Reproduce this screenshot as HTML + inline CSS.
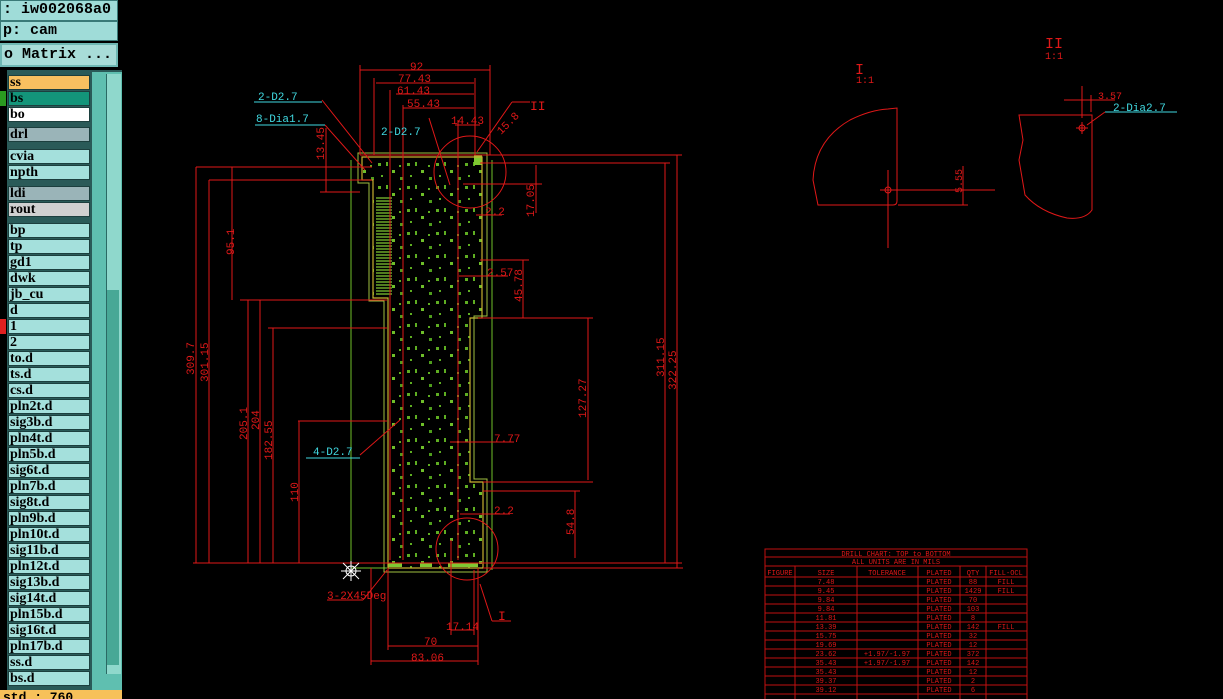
<!DOCTYPE html>
<html><head><meta charset="utf-8"><style>
html,body{margin:0;padding:0;background:#000;width:1223px;height:699px;overflow:hidden;font-family:"Liberation Mono",monospace}
.p{position:absolute}
.hd{position:absolute;left:0;width:118px;background:#9fdcd8;border:1px solid #3a7a78;color:#000;font:bold 15px "Liberation Mono",monospace;line-height:18px;box-sizing:border-box;padding-left:2px;white-space:nowrap;overflow:hidden}
.r{position:absolute;left:8px;width:82px;height:15px;background:#a4e0dc;border:1px solid #1c3f3e;box-sizing:border-box;font:bold 14px "Liberation Serif",serif;line-height:13px;padding-left:1px;color:#000}
svg text{font-family:"Liberation Mono",monospace}
</style></head><body>
<div class="p" style="left:0;top:0;width:122px;height:699px;background:#000"></div>
<div class="hd" style="top:0;height:21px">: iw002068a0</div>
<div class="hd" style="top:21px;height:20px">p: cam</div>
<div class="hd" style="top:43px;height:24px;background:#a8dcd8;border:2px solid #6fb8b4;line-height:20px">o Matrix ...</div>
<div class="p" style="left:0;top:70px;width:122px;height:620px;background:#2a5a58"></div>
<div class="p" style="left:0;top:70px;width:7px;height:620px;background:#000"></div>
<div class="p" style="left:92px;top:72px;width:30px;height:618px;background:#5fbfb0"></div>
<div class="p" style="left:106px;top:74px;width:14px;height:600px;background:#8fd8cc;border-left:1px solid #2a6a64"></div>
<div class="p" style="left:107px;top:290px;width:12px;height:375px;background:#48a896"></div>
<div class="p" style="left:0;top:690px;width:122px;height:9px;background:#f7c15a;overflow:hidden;font:bold 13px 'Liberation Mono',monospace;line-height:16px;padding-left:3px;box-sizing:border-box">std : 760</div>
<div class="r" style="top:75px;background:#f8c060">ss</div>
<div class="r" style="top:91px;background:#13957a">bs</div>
<div class="r" style="top:107px;background:#fff">bo</div>
<div class="r" style="top:127px;background:#9ab4b8">drl</div>
<div class="r" style="top:149px">cvia</div>
<div class="r" style="top:165px">npth</div>
<div class="r" style="top:186px;background:#9ab4b8">ldi</div>
<div class="r" style="top:202px;background:#d0d0d0">rout</div>
<div class="r" style="top:223px">bp</div>
<div class="r" style="top:239px">tp</div>
<div class="r" style="top:255px">gd1</div>
<div class="r" style="top:271px">dwk</div>
<div class="r" style="top:287px">jb_cu</div>
<div class="r" style="top:303px">d</div>
<div class="r" style="top:319px">1</div>
<div class="r" style="top:335px">2</div>
<div class="r" style="top:351px">to.d</div>
<div class="r" style="top:367px">ts.d</div>
<div class="r" style="top:383px">cs.d</div>
<div class="r" style="top:399px">pln2t.d</div>
<div class="r" style="top:415px">sig3b.d</div>
<div class="r" style="top:431px">pln4t.d</div>
<div class="r" style="top:447px">pln5b.d</div>
<div class="r" style="top:463px">sig6t.d</div>
<div class="r" style="top:479px">pln7b.d</div>
<div class="r" style="top:495px">sig8t.d</div>
<div class="r" style="top:511px">pln9b.d</div>
<div class="r" style="top:527px">pln10t.d</div>
<div class="r" style="top:543px">sig11b.d</div>
<div class="r" style="top:559px">pln12t.d</div>
<div class="r" style="top:575px">sig13b.d</div>
<div class="r" style="top:591px">sig14t.d</div>
<div class="r" style="top:607px">pln15b.d</div>
<div class="r" style="top:623px">sig16t.d</div>
<div class="r" style="top:639px">pln17b.d</div>
<div class="r" style="top:655px">ss.d</div>
<div class="r" style="top:671px">bs.d</div>
<div class="p" style="left:0;top:91px;width:6px;height:15px;background:#2a9a20"></div>
<div class="p" style="left:0;top:319px;width:6px;height:15px;background:#e02020"></div>

<svg class="p" style="left:0;top:0" width="1223" height="699" viewBox="0 0 1223 699">
<defs>
<pattern id="pads" width="29" height="23" patternUnits="userSpaceOnUse">
<rect x="1" y="2" width="3" height="3" fill="#5fae22"/><rect x="9" y="1" width="2" height="4" fill="#5fae22"/>
<rect x="15" y="9" width="3" height="3" fill="#6fbf2a"/><rect x="4" y="14" width="2" height="2" fill="#5fae22"/>
<rect x="22" y="4" width="2" height="2" fill="#5fae22"/><rect x="23" y="16" width="3" height="3" fill="#4f9e1c"/>
</pattern>
<clipPath id="bc"><path d="M362 157 H482 V318 H470 V482 H483 V568 H388 V298 H373 V180 H362 Z"/></clipPath>
</defs>
<g clip-path="url(#bc)"><rect x="360" y="155" width="130" height="415" fill="url(#pads)"/></g>
<rect x="376" y="196" width="16" height="100" fill="#000"/>
<g stroke="#7fc832" stroke-width="1.2">
<path d="M376 198H392M376 201H392M376 204H392M376 207H392M376 210H392M376 213H392M376 216H392M376 219H392M376 222H392M376 225H392M376 228H392M376 231H392M376 234H392M376 237H392M376 240H392M376 243H392M376 246H392M376 249H392M376 252H392M376 255H392M376 258H392M376 261H392M376 264H392M376 267H392M376 270H392M376 273H392M376 276H392M376 279H392M376 282H392M376 285H392M376 288H392M376 291H392M376 294H392"/>
</g>
<rect x="388" y="563" width="14" height="4" fill="#7fc832"/><rect x="420" y="563" width="12" height="4" fill="#7fc832"/><rect x="448" y="563" width="30" height="4" fill="#7fc832"/>
<rect x="474" y="155" width="8" height="10" fill="#7fc832"/>
<path d="M362 157 H482 V318 H470 V482 H483 V568 H388 V298 H373 V180 H362 Z" fill="none" stroke="#c8b030" stroke-width="1.2"/>
<path d="M358 153 H487 V316 H474 V479 H487 V572 H384 V301 H369 V183 H358 Z" fill="none" stroke="#a0c040" stroke-width="1"/>
<g stroke="#6fbf2a" stroke-width="1"><line x1="351" y1="160" x2="351" y2="570"/><line x1="492" y1="160" x2="492" y2="570"/><line x1="351" y1="568" x2="387" y2="568"/></g>
<g stroke="#e01818" stroke-width="1" fill="none">
<line x1="193" y1="563" x2="682" y2="563"/><line x1="483" y1="568" x2="683" y2="568"/>
<line x1="360" y1="155" x2="682" y2="155"/><line x1="480" y1="163" x2="670" y2="163"/>
<line x1="196" y1="167" x2="372" y2="167"/><line x1="209" y1="180" x2="372" y2="180"/>
<line x1="240" y1="300" x2="387" y2="300"/><line x1="268" y1="328" x2="387" y2="328"/><line x1="298" y1="421" x2="387" y2="421"/>
<line x1="196" y1="167" x2="196" y2="563"/><line x1="209" y1="180" x2="209" y2="563"/><line x1="248" y1="300" x2="248" y2="563"/>
<line x1="260" y1="300" x2="260" y2="563"/><line x1="273" y1="328" x2="273" y2="563"/><line x1="299" y1="421" x2="299" y2="563"/>
<line x1="232" y1="167" x2="232" y2="300"/><line x1="326" y1="128" x2="326" y2="192"/><line x1="320" y1="192" x2="360" y2="192"/>
<line x1="665" y1="163" x2="665" y2="563"/><line x1="677" y1="155" x2="677" y2="568"/>
<line x1="463" y1="184" x2="542" y2="184"/><line x1="536" y1="165" x2="536" y2="213"/>
<line x1="480" y1="260" x2="529" y2="260"/><line x1="523" y1="260" x2="523" y2="318"/>
<line x1="478" y1="318" x2="593" y2="318"/><line x1="588" y1="318" x2="588" y2="480"/>
<line x1="483" y1="482" x2="593" y2="482"/><line x1="483" y1="491" x2="580" y2="491"/><line x1="575" y1="491" x2="575" y2="558"/>
<line x1="476" y1="215" x2="502" y2="215"/><line x1="459" y1="276" x2="508" y2="276"/>
<line x1="450" y1="442" x2="514" y2="442"/><line x1="460" y1="514" x2="510" y2="514"/>
<line x1="360" y1="65" x2="360" y2="155"/><line x1="490" y1="65" x2="490" y2="155"/>
<line x1="374" y1="78" x2="374" y2="155"/><line x1="390" y1="90" x2="390" y2="560"/><line x1="403" y1="105" x2="403" y2="560"/>
<line x1="475" y1="78" x2="475" y2="155"/><line x1="458" y1="120" x2="458" y2="560"/>
<line x1="360" y1="70" x2="490" y2="70"/><line x1="376" y1="83" x2="474" y2="83"/><line x1="396" y1="94" x2="474" y2="94"/>
<line x1="403" y1="108" x2="474" y2="108"/><line x1="455" y1="125" x2="480" y2="125"/>
<circle cx="470" cy="172" r="36"/><circle cx="467" cy="549" r="31"/>
<line x1="477" y1="152" x2="512" y2="102"/><line x1="512" y1="102" x2="530" y2="102"/>
<line x1="480" y1="584" x2="492" y2="621"/><line x1="492" y1="621" x2="511" y2="621"/>
<line x1="388" y1="568" x2="388" y2="650"/><line x1="371" y1="568" x2="371" y2="665"/><line x1="478" y1="568" x2="478" y2="665"/>
<line x1="388" y1="646" x2="478" y2="646"/><line x1="371" y1="661" x2="478" y2="661"/>
<line x1="451" y1="540" x2="451" y2="635"/><line x1="474" y1="570" x2="474" y2="635"/><line x1="451" y1="630" x2="474" y2="630"/>
<line x1="327" y1="600" x2="363" y2="600"/><line x1="363" y1="600" x2="387" y2="570"/>
<line x1="322" y1="100" x2="372" y2="163"/><line x1="325" y1="125" x2="365" y2="170"/>
<line x1="429" y1="118" x2="450" y2="185"/><line x1="360" y1="455" x2="400" y2="420"/>
</g>
<g fill="#e01818" font-size="11">
<text x="410" y="70">92</text><text x="398" y="82">77.43</text><text x="397" y="94">61.43</text><text x="407" y="107">55.43</text>
<text x="451" y="124">14.43</text><text x="530" y="110" font-size="13">II</text>
<text x="485" y="215">2.2</text><text x="487" y="276">2.57</text><text x="494" y="442">7.77</text><text x="494" y="514">2.2</text>
<text x="446" y="630">17.14</text><text x="424" y="645">70</text><text x="411" y="661">83.06</text><text x="498" y="620" font-size="13">I</text>
<text x="327" y="599">3-2X45Deg</text>
<text transform="translate(194,375) rotate(-90)">309.7</text><text transform="translate(208,382) rotate(-90)">301.15</text>
<text transform="translate(247,440) rotate(-90)">205.1</text><text transform="translate(259,430) rotate(-90)">204</text><text transform="translate(272,460) rotate(-90)">182.55</text>
<text transform="translate(298,502) rotate(-90)">110</text><text transform="translate(234,255) rotate(-90)">95.1</text><text transform="translate(324,160) rotate(-90)">13.45</text>
<text transform="translate(534,217) rotate(-90)">17.05</text><text transform="translate(522,302) rotate(-90)">45.78</text><text transform="translate(586,418) rotate(-90)">127.27</text>
<text transform="translate(574,535) rotate(-90)">54.8</text><text transform="translate(664,377) rotate(-90)">311.15</text><text transform="translate(676,390) rotate(-90)">322.25</text>
<text transform="translate(501,135) rotate(-45)">15.8</text>
</g>
<g fill="#40d8e0" font-size="11">
<text x="258" y="100">2-D2.7</text><text x="256" y="122">8-Dia1.7</text><text x="381" y="135">2-D2.7</text><text x="313" y="455">4-D2.7</text>
<text x="1113" y="111">2-Dia2.7</text>
</g>
<g stroke="#40d8e0"><line x1="254" y1="102" x2="322" y2="102"/><line x1="255" y1="125" x2="325" y2="125"/><line x1="306" y1="458" x2="360" y2="458"/><line x1="1105" y1="112" x2="1177" y2="112"/></g>
<g stroke="#fff" stroke-width="1"><line x1="343" y1="563" x2="359" y2="579"/><line x1="359" y1="563" x2="343" y2="579"/><line x1="351" y1="561" x2="351" y2="581"/><line x1="341" y1="571" x2="361" y2="571"/><circle cx="351" cy="571" r="5" fill="none"/></g>
<g stroke="#e01818" fill="none">
<path d="M818 205 L813 180 Q815 140 850 120 Q870 110 888 109 L897 108 V201 Q897 205 893 205 Z"/>
<line x1="888" y1="170" x2="888" y2="248"/><line x1="880" y1="190" x2="995" y2="190"/><line x1="898" y1="205" x2="968" y2="205"/>
<line x1="963" y1="166" x2="963" y2="205"/><circle cx="888" cy="190" r="3"/>
<path d="M1019 115 H1092 V210 Q1085 220 1067 218 Q1040 212 1025 195 L1019 160 L1023 140 Z"/>
<line x1="1082" y1="86" x2="1082" y2="118"/><line x1="1091" y1="95" x2="1091" y2="112"/><line x1="1064" y1="100" x2="1115" y2="100"/>
<circle cx="1082" cy="128" r="3"/><line x1="1076" y1="128" x2="1088" y2="128"/><line x1="1082" y1="122" x2="1082" y2="134"/>
<line x1="1087" y1="125" x2="1105" y2="112"/>
</g>
<g fill="#e01818" font-size="10">
<text x="855" y="74" font-size="15">I</text><text x="856" y="83">1:1</text>
<text x="1045" y="48" font-size="15">II</text><text x="1045" y="59">1:1</text>
<text x="1098" y="99">3.57</text><text transform="translate(962,193) rotate(-90)">5.55</text>
</g>
<g stroke="#c01010" fill="none" stroke-width="1">
<rect x="765" y="549" width="262" height="160"/>
<line x1="765" y1="557" x2="1027" y2="557"/><line x1="765" y1="566" x2="1027" y2="566"/><line x1="765" y1="577" x2="1027" y2="577"/>
<line x1="765" y1="586" x2="1027" y2="586"/><line x1="765" y1="595" x2="1027" y2="595"/><line x1="765" y1="604" x2="1027" y2="604"/>
<line x1="765" y1="613" x2="1027" y2="613"/><line x1="765" y1="622" x2="1027" y2="622"/><line x1="765" y1="631" x2="1027" y2="631"/>
<line x1="765" y1="640" x2="1027" y2="640"/><line x1="765" y1="649" x2="1027" y2="649"/><line x1="765" y1="658" x2="1027" y2="658"/>
<line x1="765" y1="667" x2="1027" y2="667"/><line x1="765" y1="676" x2="1027" y2="676"/><line x1="765" y1="685" x2="1027" y2="685"/><line x1="765" y1="694" x2="1027" y2="694"/>
<line x1="795" y1="566" x2="795" y2="699"/><line x1="857" y1="566" x2="857" y2="699"/><line x1="918" y1="566" x2="918" y2="699"/>
<line x1="960" y1="566" x2="960" y2="699"/><line x1="986" y1="566" x2="986" y2="699"/>
</g>
<g fill="#e01818" font-size="7" text-anchor="middle">
<text x="896" y="556">DRILL CHART: TOP to BOTTOM</text><text x="896" y="564">ALL UNITS ARE IN MILS</text>
<text x="780" y="575">FIGURE</text><text x="826" y="575">SIZE</text><text x="887" y="575">TOLERANCE</text><text x="939" y="575">PLATED</text><text x="973" y="575">QTY</text><text x="1006" y="575">FILL-OCL</text>
<text x="826" y="584">7.48</text><text x="939" y="584">PLATED</text><text x="973" y="584">88</text><text x="1006" y="584">FILL</text>
<text x="826" y="593">9.45</text><text x="939" y="593">PLATED</text><text x="973" y="593">1429</text><text x="1006" y="593">FILL</text>
<text x="826" y="602">9.84</text><text x="939" y="602">PLATED</text><text x="973" y="602">70</text>
<text x="826" y="611">9.84</text><text x="939" y="611">PLATED</text><text x="973" y="611">103</text>
<text x="826" y="620">11.81</text><text x="939" y="620">PLATED</text><text x="973" y="620">8</text>
<text x="826" y="629">13.39</text><text x="939" y="629">PLATED</text><text x="973" y="629">142</text><text x="1006" y="629">FILL</text>
<text x="826" y="638">15.75</text><text x="939" y="638">PLATED</text><text x="973" y="638">32</text>
<text x="826" y="647">19.69</text><text x="939" y="647">PLATED</text><text x="973" y="647">12</text>
<text x="826" y="656">23.62</text><text x="887" y="656">+1.97/-1.97</text><text x="939" y="656">PLATED</text><text x="973" y="656">372</text>
<text x="826" y="665">35.43</text><text x="887" y="665">+1.97/-1.97</text><text x="939" y="665">PLATED</text><text x="973" y="665">142</text>
<text x="826" y="674">35.43</text><text x="939" y="674">PLATED</text><text x="973" y="674">12</text>
<text x="826" y="683">39.37</text><text x="939" y="683">PLATED</text><text x="973" y="683">2</text>
<text x="826" y="692">39.12</text><text x="939" y="692">PLATED</text><text x="973" y="692">6</text>
</g>
</svg>
</body></html>
